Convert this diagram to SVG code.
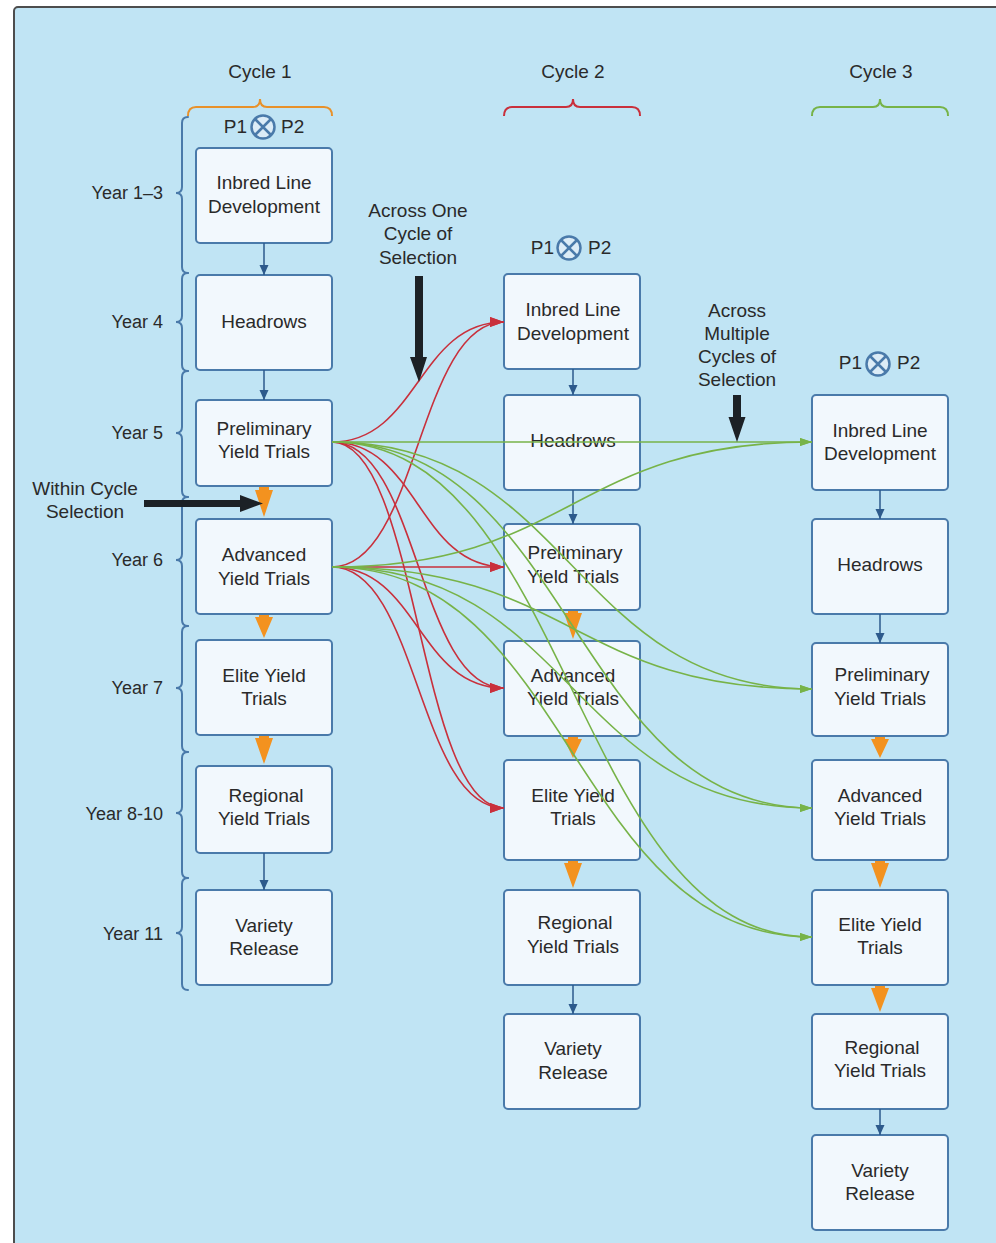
<svg xmlns="http://www.w3.org/2000/svg" width="996" height="1243" viewBox="0 0 996 1243">
<defs>
<style>
text{font-family:"Liberation Sans",Arial,sans-serif;fill:#2a2a2a;}
.t{font-size:19px;text-anchor:middle;}
.yr{font-size:18px;text-anchor:end;}
.box{fill:#f2f8fd;stroke:#4a7aaa;stroke-width:2;}
.brace{fill:none;stroke:#4a7aaa;stroke-width:2;stroke-linecap:round;}
.red{fill:none;stroke:#c9303c;stroke-width:1.6;marker-end:url(#mr);}
.grn{fill:none;stroke:#77b348;stroke-width:1.6;marker-end:url(#mg);}
.blu{fill:none;stroke:#2d5a8c;stroke-width:1.5;marker-end:url(#mb);}
.org{fill:#f3921f;}
.blk{fill:#1c2126;}
.cross{fill:#dcecf7;stroke:#4a7aaa;stroke-width:2.5;}
</style>
<marker id="mr" markerUnits="userSpaceOnUse" markerWidth="16" markerHeight="12" refX="14" refY="5" orient="auto"><path d="M0,0 L14,5 L0,10 Z" fill="#c9303c"/></marker>
<marker id="mg" markerUnits="userSpaceOnUse" markerWidth="14" markerHeight="10" refX="12" refY="4" orient="auto"><path d="M0,0 L12,4 L0,8 Z" fill="#77b348"/></marker>
<marker id="mb" markerUnits="userSpaceOnUse" markerWidth="12" markerHeight="10" refX="10" refY="4.5" orient="auto"><path d="M0,0 L10,4.5 L0,9 Z" fill="#2d5a8c"/></marker>
</defs>
<rect x="0" y="0" width="996" height="1243" fill="#ffffff"/>
<rect x="14" y="7" width="1000" height="1260" rx="4" fill="#c0e4f4" stroke="#4d4d4d" stroke-width="2"/>

<g id="cycle-labels">
<text class="t" x="260" y="78">Cycle 1</text>
<text class="t" x="573" y="78">Cycle 2</text>
<text class="t" x="881" y="78">Cycle 3</text>
<path d="M188,116 Q188,107 196,107 L253,107 Q260,107 260,99 Q260,107 267,107 L324,107 Q332,107 332,116" fill="none" stroke="#e8912a" stroke-width="2"/>
<path d="M504,116 Q504,107 512,107 L566,107 Q573,107 573,99 Q573,107 580,107 L632,107 Q640,107 640,116" fill="none" stroke="#c9303c" stroke-width="2"/>
<path d="M812,116 Q812,107 820,107 L873,107 Q880,107 880,99 Q880,107 887,107 L940,107 Q948,107 948,116" fill="none" stroke="#77b348" stroke-width="2"/>
</g>

<g id="year-braces">
<path class="brace" d="M188,117 Q182,117 182,123 L182,187 Q182,193 176,193 Q182,193 182,199 L182,267 Q182,273 188,273"/>
<path class="brace" d="M188,273 Q182,273 182,279 L182,316 Q182,322 176,322 Q182,322 182,328 L182,365 Q182,371 188,371"/>
<path class="brace" d="M188,371 Q182,371 182,377 L182,427 Q182,433 176,433 Q182,433 182,439 L182,491 Q182,497 188,497"/>
<path class="brace" d="M188,497 Q182,497 182,503 L182,554 Q182,560 176,560 Q182,560 182,566 L182,620 Q182,626 188,626"/>
<path class="brace" d="M188,626 Q182,626 182,632 L182,682 Q182,688 176,688 Q182,688 182,694 L182,746 Q182,752 188,752"/>
<path class="brace" d="M188,752 Q182,752 182,758 L182,807 Q182,813 176,813 Q182,813 182,819 L182,872 Q182,878 188,878"/>
<path class="brace" d="M188,878 Q182,878 182,884 L182,927 Q182,933 176,933 Q182,933 182,939 L182,984 Q182,990 188,990"/>
<text class="yr" x="163" y="199">Year 1–3</text>
<text class="yr" x="163" y="328">Year 4</text>
<text class="yr" x="163" y="439">Year 5</text>
<text class="yr" x="163" y="566">Year 6</text>
<text class="yr" x="163" y="694">Year 7</text>
<text class="yr" x="163" y="820">Year 8-10</text>
<text class="yr" x="163" y="940">Year 11</text>
</g>

<g id="cross-1">
<text class="t" x="247" y="133" style="text-anchor:end">P1</text>
<circle class="cross" cx="263" cy="127" r="11.5"/>
<path d="M255,119 L271,135 M271,119 L255,135" stroke="#4a7aaa" stroke-width="2.5"/>
<text class="t" x="281" y="133" style="text-anchor:start">P2</text>
</g>
<g id="cross-2">
<text class="t" x="554" y="254" style="text-anchor:end">P1</text>
<circle class="cross" cx="569" cy="248" r="11.5"/>
<path d="M561,240 L577,256 M577,240 L561,256" stroke="#4a7aaa" stroke-width="2.5"/>
<text class="t" x="588" y="254" style="text-anchor:start">P2</text>
</g>
<g id="cross-3">
<text class="t" x="862" y="369" style="text-anchor:end">P1</text>
<circle class="cross" cx="878" cy="364" r="11.5"/>
<path d="M870,356 L886,372 M886,356 L870,372" stroke="#4a7aaa" stroke-width="2.5"/>
<text class="t" x="897" y="369" style="text-anchor:start">P2</text>
</g>

<!-- Column 1 -->
<g id="c1-inbred"><rect class="box" x="196" y="148" width="136" height="95" rx="4"/><text class="t" x="264" y="189">Inbred Line</text><text class="t" x="264" y="213">Development</text></g>
<g id="c1-headrows"><rect class="box" x="196" y="275" width="136" height="95" rx="4"/><text class="t" x="264" y="328">Headrows</text></g>
<g id="c1-prelim"><rect class="box" x="196" y="400" width="136" height="86" rx="4"/><text class="t" x="264" y="435">Preliminary</text><text class="t" x="264" y="458">Yield Trials</text></g>
<g id="c1-advanced"><rect class="box" x="196" y="519" width="136" height="95" rx="4"/><text class="t" x="264" y="561">Advanced</text><text class="t" x="264" y="585">Yield Trials</text></g>
<g id="c1-elite"><rect class="box" x="196" y="640" width="136" height="95" rx="4"/><text class="t" x="264" y="682">Elite Yield</text><text class="t" x="264" y="705">Trials</text></g>
<g id="c1-regional"><rect class="box" x="196" y="766" width="136" height="87" rx="4"/><text class="t" x="266" y="802">Regional</text><text class="t" x="264" y="825">Yield Trials</text></g>
<g id="c1-variety"><rect class="box" x="196" y="890" width="136" height="95" rx="4"/><text class="t" x="264" y="932">Variety</text><text class="t" x="264" y="955">Release</text></g>

<!-- Column 2 -->
<g id="c2-inbred"><rect class="box" x="504" y="274" width="136" height="95" rx="4"/><text class="t" x="573" y="316">Inbred Line</text><text class="t" x="573" y="340">Development</text></g>
<g id="c2-headrows"><rect class="box" x="504" y="395" width="136" height="95" rx="4"/><text class="t" x="573" y="447">Headrows</text></g>
<g id="c2-prelim"><rect class="box" x="504" y="524" width="136" height="86" rx="4"/><text class="t" x="575" y="559">Preliminary</text><text class="t" x="573" y="583">Yield Trials</text></g>
<g id="c2-advanced"><rect class="box" x="504" y="641" width="136" height="95" rx="4"/><text class="t" x="573" y="682">Advanced</text><text class="t" x="573" y="705">Yield Trials</text></g>
<g id="c2-elite"><rect class="box" x="504" y="760" width="136" height="100" rx="4"/><text class="t" x="573" y="802">Elite Yield</text><text class="t" x="573" y="825">Trials</text></g>
<g id="c2-regional"><rect class="box" x="504" y="890" width="136" height="95" rx="4"/><text class="t" x="575" y="929">Regional</text><text class="t" x="573" y="953">Yield Trials</text></g>
<g id="c2-variety"><rect class="box" x="504" y="1014" width="136" height="95" rx="4"/><text class="t" x="573" y="1055">Variety</text><text class="t" x="573" y="1079">Release</text></g>

<!-- Column 3 -->
<g id="c3-inbred"><rect class="box" x="812" y="395" width="136" height="95" rx="4"/><text class="t" x="880" y="437">Inbred Line</text><text class="t" x="880" y="460">Development</text></g>
<g id="c3-headrows"><rect class="box" x="812" y="519" width="136" height="95" rx="4"/><text class="t" x="880" y="571">Headrows</text></g>
<g id="c3-prelim"><rect class="box" x="812" y="643" width="136" height="93" rx="4"/><text class="t" x="882" y="681">Preliminary</text><text class="t" x="880" y="705">Yield Trials</text></g>
<g id="c3-advanced"><rect class="box" x="812" y="760" width="136" height="100" rx="4"/><text class="t" x="880" y="802">Advanced</text><text class="t" x="880" y="825">Yield Trials</text></g>
<g id="c3-elite"><rect class="box" x="812" y="890" width="136" height="95" rx="4"/><text class="t" x="880" y="931">Elite Yield</text><text class="t" x="880" y="954">Trials</text></g>
<g id="c3-regional"><rect class="box" x="812" y="1014" width="136" height="95" rx="4"/><text class="t" x="882" y="1054">Regional</text><text class="t" x="880" y="1077">Yield Trials</text></g>
<g id="c3-variety"><rect class="box" x="812" y="1135" width="136" height="95" rx="4"/><text class="t" x="880" y="1177">Variety</text><text class="t" x="880" y="1200">Release</text></g>

<g id="connectors">
<!-- blue within-column arrows -->
<path class="blu" d="M264,243 L264,275"/>
<path class="blu" d="M264,370 L264,400"/>
<path class="blu" d="M264,853 L264,890"/>
<path class="blu" d="M573,369 L573,395"/>
<path class="blu" d="M573,490 L573,524"/>
<path class="blu" d="M573,985 L573,1014"/>
<path class="blu" d="M880,490 L880,519"/>
<path class="blu" d="M880,614 L880,643"/>
<path class="blu" d="M880,1109 L880,1135"/>
<!-- orange within-column arrows -->
<polygon class="org" points="259,487 269,487 269,490 273,490 264,517 255,490 259,490"/>
<polygon class="org" points="259,615 269,615 269,617 273,617 264,638 255,617 259,617"/>
<polygon class="org" points="259,736 269,736 269,738 273,738 264,764 255,738 259,738"/>
<polygon class="org" points="568,611 578,611 578,613 582,613 573,639 564,613 568,613"/>
<polygon class="org" points="568,737 578,737 578,739 582,739 573,758 564,739 568,739"/>
<polygon class="org" points="568,861 578,861 578,863 582,863 573,888 564,863 568,863"/>
<polygon class="org" points="875,737 885,737 885,739 889,739 880,758 871,739 875,739"/>
<polygon class="org" points="875,861 885,861 885,863 889,863 880,888 871,863 875,863"/>
<polygon class="org" points="875,986 885,986 885,988 889,988 880,1012 871,988 875,988"/>
<!-- red: across one cycle -->
<path class="red" d="M332,442 C418,442 418,322 504,322"/>
<path class="red" d="M332,442 C418,442 418,567 504,567"/>
<path class="red" d="M332,442 C418,442 418,688 504,688"/>
<path class="red" d="M332,442 C418,442 418,808 504,808"/>
<path class="red" d="M332,567 C418,567 418,322 504,322"/>
<path class="red" d="M332,567 L504,567"/>
<path class="red" d="M332,567 C418,567 418,688 504,688"/>
<path class="red" d="M332,567 C418,567 418,808 504,808"/>
<!-- green: across multiple cycles -->
<path class="grn" d="M332,442 L812,442"/>
<path class="grn" d="M332,442 C572,442 572,689 812,689"/>
<path class="grn" d="M332,442 C572,442 572,808 812,808"/>
<path class="grn" d="M332,442 C572,442 572,937 812,937"/>
<path class="grn" d="M332,567 C572,567 572,442 812,442"/>
<path class="grn" d="M332,567 C572,567 572,689 812,689"/>
<path class="grn" d="M332,567 C572,567 572,808 812,808"/>
<path class="grn" d="M332,567 C572,567 572,937 812,937"/>
</g>

<g id="within-cycle">
<text class="t" x="85" y="495">Within Cycle</text>
<text class="t" x="85" y="518">Selection</text>
<polygon class="blk" points="144,500 240,500 240,495 263,503.5 240,512 240,507 144,507"/>
</g>
<g id="across-one">
<text class="t" x="418" y="217">Across One</text>
<text class="t" x="418" y="240">Cycle of</text>
<text class="t" x="418" y="264">Selection</text>
<polygon class="blk" points="415,276 423,276 423,357 427,357 419,382 410,357 415,357"/>
</g>
<g id="across-multiple">
<text class="t" x="737" y="317">Across</text>
<text class="t" x="737" y="340">Multiple</text>
<text class="t" x="737" y="363">Cycles of</text>
<text class="t" x="737" y="386">Selection</text>
<polygon class="blk" points="733,395 741,395 741,417 745.5,417 737,442 728.5,417 733,417"/>
</g>
</svg>
